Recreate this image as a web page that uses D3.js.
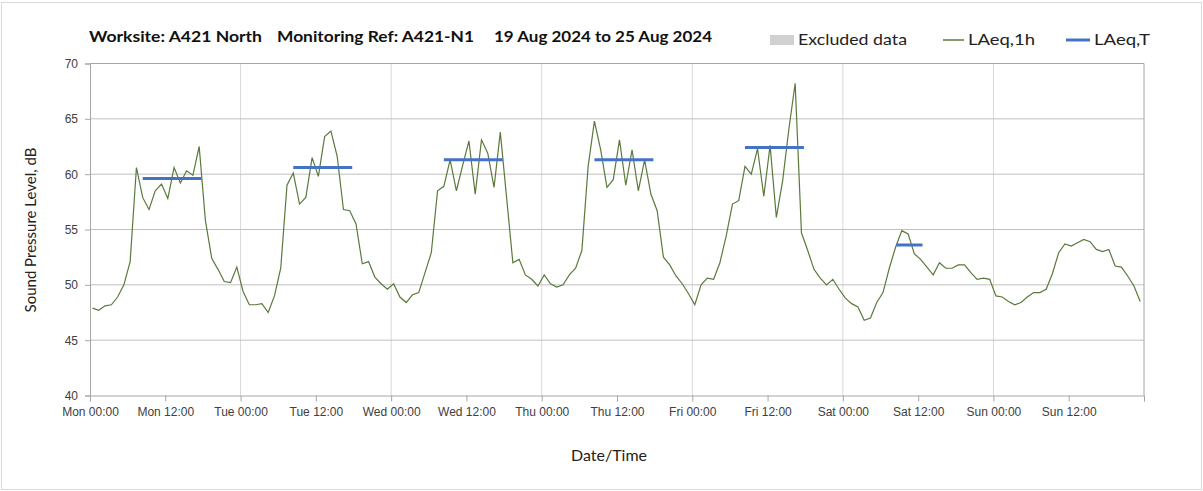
<!DOCTYPE html>
<html>
<head>
<meta charset="utf-8">
<script src="https://cdn.jsdelivr.net/npm/d3@7"></script>
<style>
  body { margin: 0; background: #fff; }
  svg { display: block; font-family: Lato, "Open Sans", sans-serif; }
  .tick text { fill: #404040; font-size: 12px; }
</style>
</head>
<body>
<div id="chart"></div>
<script>
// hourly LAeq,1h values, Mon 00:00 .. Sun 23:00 (dB)
const laeq1h = [
  47.9, 47.7, 48.1, 48.2, 48.9, 50.0, 52.1, 60.6, 57.9, 56.8, 58.5, 59.1,
  57.8, 60.6, 59.2, 60.3, 59.9, 62.5, 55.8, 52.4, 51.4, 50.3, 50.2, 51.6,
  49.4, 48.2, 48.2, 48.3, 47.5, 49.0, 51.5, 59.0, 60.1, 57.3, 57.9, 61.5,
  59.8, 63.4, 63.9, 61.6, 56.8, 56.7, 55.5, 51.9, 52.1, 50.7, 50.1, 49.6,
  50.1, 48.9, 48.4, 49.1, 49.3, 51.1, 52.9, 58.5, 58.9, 61.3, 58.5, 60.8,
  63.0, 58.2, 63.1, 61.9, 58.8, 63.8, 57.9, 52.0, 52.3, 50.9, 50.5, 49.9,
  50.9, 50.1, 49.8, 50.0, 50.9, 51.5, 53.1, 60.7, 64.8, 62.2, 58.8, 59.5,
  63.1, 59.0, 62.2, 58.5, 61.3, 58.2, 56.7, 52.5, 51.8, 50.8, 50.1, 49.2,
  48.2, 50.0, 50.6, 50.5, 52.0, 54.4, 57.3, 57.6, 60.7, 60.0, 62.3, 58.0,
  62.6, 56.1, 59.4, 64.1, 68.2, 54.7, 53.1, 51.4, 50.6, 50.0, 50.5, 49.6,
  48.8, 48.3, 48.0, 46.8, 47.0, 48.4, 49.3, 51.5, 53.4, 54.9, 54.6, 52.8,
  52.3, 51.6, 50.9, 52.0, 51.5, 51.5, 51.8, 51.8, 51.1, 50.5, 50.6, 50.5,
  49.0, 48.9, 48.5, 48.2, 48.4, 48.9, 49.3, 49.3, 49.6, 51.0, 52.9, 53.7,
  53.5, 53.8, 54.1, 53.9, 53.2, 53.0, 53.2, 51.7, 51.6, 50.8, 49.9, 48.5
];
const sampleOffset = 0.4; // plotted position inside each hour

// LAeq,T over the working period of each day (hours from Mon 00:00)
const periodStart = [8.4, 32.4, 56.4, 80.4, 104.4, 128.5];
const periodEnd   = [17.8, 41.8, 65.8, 89.8, 113.8, 132.7];
const laeqT       = [59.6, 60.6, 61.3, 61.3, 62.4, 53.6];

const tickLabels = [
  "Mon 00:00", "Mon 12:00", "Tue 00:00", "Tue 12:00", "Wed 00:00", "Wed 12:00",
  "Thu 00:00", "Thu 12:00", "Fri 00:00", "Fri 12:00", "Sat 00:00", "Sat 12:00",
  "Sun 00:00", "Sun 12:00"
];
const yTicks = [40, 45, 50, 55, 60, 65, 70];

const width = 1203, height = 491;
const plotLeft = 90, plotRight = 1144, plotTop = 63.5, plotBottom = 395.5;

const svg = d3.select("#chart").append("svg")
  .attr("width", width)
  .attr("height", height);

// outer frame
svg.append("rect")
  .attr("x", 1.5).attr("y", 2.5)
  .attr("width", width - 3).attr("height", height - 4)
  .attr("fill", "none").attr("stroke", "#d9d9d9");

const x = d3.scaleLinear().domain([0, 168]).range([plotLeft, plotRight]);
const y = d3.scaleLinear().domain([40, 70]).range([plotBottom, plotTop]);

// vertical grid at midnight
svg.append("g")
  .selectAll("line")
  .data(d3.range(24, 168, 24))
  .join("line")
  .attr("x1", d => x(d)).attr("x2", d => x(d))
  .attr("y1", plotTop).attr("y2", plotBottom)
  .attr("stroke", "#d9d9d9");

// horizontal grid
svg.append("g")
  .selectAll("line")
  .data(yTicks.slice(1))
  .join("line")
  .attr("x1", plotLeft).attr("x2", plotRight)
  .attr("y1", d => y(d)).attr("y2", d => y(d))
  .attr("stroke", d => d === 70 ? "#a6a6a6" : "#c0c0c0");

// right border
svg.append("line")
  .attr("x1", plotRight).attr("x2", plotRight)
  .attr("y1", plotTop).attr("y2", plotBottom)
  .attr("stroke", "#a6a6a6");

const xAxis = svg.append("g")
  .attr("transform", `translate(0,${plotBottom})`)
  .call(d3.axisBottom(x)
    .tickValues(d3.range(0, 169, 12))
    .tickFormat((d, i) => tickLabels[i] || "")
    .tickSize(6)
    .tickPadding(6));

const yAxis = svg.append("g")
  .attr("transform", `translate(${plotLeft},0)`)
  .call(d3.axisLeft(y)
    .tickValues(yTicks)
    .tickSize(5)
    .tickPadding(7));

[xAxis, yAxis].forEach(g => {
  g.select(".domain").attr("stroke", "#a6a6a6");
  g.selectAll(".tick line").attr("stroke", "#a6a6a6");
});
yAxis.selectAll(".tick text").attr("font-size", 11);

// LAeq,1h line
const line = d3.line()
  .x((d, i) => x(i + sampleOffset))
  .y(d => y(d));

svg.append("path")
  .datum(laeq1h)
  .attr("d", line)
  .attr("fill", "none")
  .attr("stroke", "#5a7a3c")
  .attr("stroke-width", 1.2);

// LAeq,T segments
svg.append("g")
  .selectAll("line")
  .data(laeqT)
  .join("line")
  .attr("x1", (d, i) => x(periodStart[i]))
  .attr("x2", (d, i) => x(periodEnd[i]))
  .attr("y1", d => y(d)).attr("y2", d => y(d))
  .attr("stroke", "#4472c4")
  .attr("stroke-width", 3);

// axis titles
svg.append("text")
  .attr("transform", "translate(36,230) rotate(-90)")
  .attr("text-anchor", "middle")
  .attr("font-size", 15)
  .attr("fill", "#222")
  .text("Sound Pressure Level, dB");

svg.append("text")
  .attr("x", 609).attr("y", 461)
  .attr("text-anchor", "middle")
  .attr("font-size", 16)
  .attr("fill", "#222")
  .text("Date/Time");

// heading
const heading = [
  { t: "Worksite: A421 North", x: 89, w: 173 },
  { t: "Monitoring Ref: A421-N1", x: 277, w: 197 },
  { t: "19 Aug 2024 to 25 Aug 2024", x: 494, w: 218 }
];
svg.append("g")
  .selectAll("text")
  .data(heading)
  .join("text")
  .attr("x", d => d.x).attr("y", 42)
  .attr("font-size", 15)
  .attr("font-weight", "bold")
  .attr("fill", "#111")
  .attr("textLength", d => d.w)
  .attr("lengthAdjust", "spacingAndGlyphs")
  .text(d => d.t);

// legend
const lg = svg.append("g").attr("fill", "#222").attr("font-size", 16);
lg.append("rect")
  .attr("x", 770).attr("y", 35).attr("width", 24).attr("height", 10)
  .attr("fill", "#d0d0d0");
lg.append("text").attr("x", 798).attr("y", 45)
  .attr("textLength", 109).attr("lengthAdjust", "spacingAndGlyphs")
  .text("Excluded data");
lg.append("line")
  .attr("x1", 943).attr("x2", 964).attr("y1", 40).attr("y2", 40)
  .attr("stroke", "#5a7a3c").attr("stroke-width", 1.5);
lg.append("text").attr("x", 968).attr("y", 45)
  .attr("textLength", 67).attr("lengthAdjust", "spacingAndGlyphs")
  .text("LAeq,1h");
lg.append("line")
  .attr("x1", 1066).attr("x2", 1090).attr("y1", 40).attr("y2", 40)
  .attr("stroke", "#4472c4").attr("stroke-width", 3);
lg.append("text").attr("x", 1094).attr("y", 45)
  .attr("textLength", 56).attr("lengthAdjust", "spacingAndGlyphs")
  .text("LAeq,T");
</script>
</body>
</html>
